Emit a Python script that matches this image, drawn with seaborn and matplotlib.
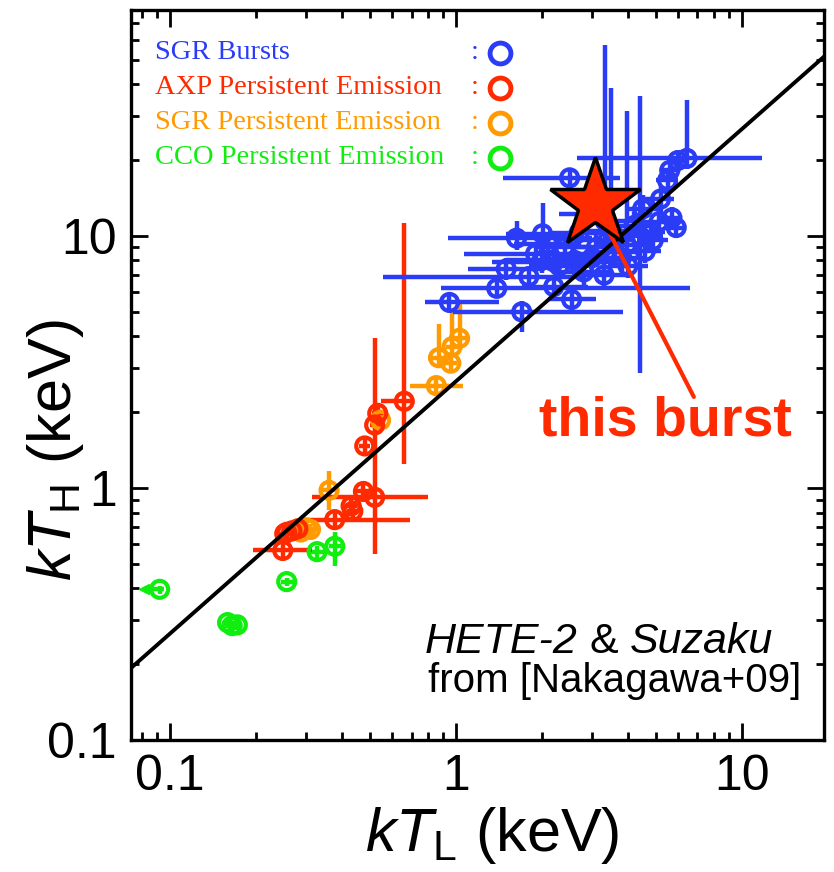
import numpy as np
import pandas as pd
import matplotlib
matplotlib.use('Agg')
import matplotlib.pyplot as plt
import matplotlib.ticker as mticker
import seaborn as sns

# SGR bursts (blue)
sgr_b_x = [0.95, 1.39, 1.70, 6.43, 5.97, 5.60, 5.50, 5.90, 5.70, 1.63, 2.01, 1.90, 2.20, 1.80, 2.54, 3.32, 3.50, 3.96,
           4.40, 2.50, 4.60, 5.14, 2.80, 3.00, 2.40, 4.00, 2.70, 3.60, 1.50, 2.20, 4.90, 2.90, 5.20, 4.50, 3.30, 2.10,
           2.60, 3.40, 3.80, 4.20, 2.30, 3.10, 4.80, 2.00]
sgr_b_y = [5.45, 6.20, 5.00, 20.3, 19.9, 18.2, 16.6, 10.8, 11.8, 9.8, 10.2, 8.5, 7.9, 6.9, 5.6, 11.5, 10.5, 9.2,
           10.0, 17.0, 8.7, 11.4, 7.2, 8.2, 9.0, 7.6, 10.3, 8.6, 7.4, 6.3, 9.6, 12.2, 14.0, 12.8, 7.0, 9.3,
           8.0, 9.6, 8.2, 11.0, 7.6, 9.0, 10.4, 8.0]
sgr_b_xlo = [0.78, 0.89, 0.98, 2.65, 5.5, 5.2, 5.0, 5.4, 5.2, 0.94, 1.5, 1.07, 1.34, 0.556, 2.1, 2.6, 2.8, 3.3,
             3.6, 1.46, 4.0, 4.6, 2.2, 2.4, 1.9, 3.4, 2.1, 3.0, 1.1, 1.7, 4.3, 2.3, 4.6, 3.9, 2.7, 1.6,
             2.0, 2.8, 3.2, 3.6, 1.8, 2.5, 4.2, 1.5]
sgr_b_xhi = [1.42, 6.6, 3.83, 11.8, 6.5, 6.0, 6.0, 6.4, 6.2, 3.0, 2.8, 3.2, 3.6, 2.83, 3.1, 4.2, 4.3, 4.7,
             5.3, 3.74, 5.2, 5.7, 3.5, 3.8, 3.0, 4.7, 3.4, 4.3, 2.0, 2.9, 5.5, 3.6, 5.8, 5.2, 4.0, 2.7,
             3.3, 4.1, 4.5, 4.9, 2.9, 3.8, 5.4, 2.6]
sgr_b_ylo = [5.1, 5.8, 4.15, 18.5, 18.0, 16.5, 15.0, 9.8, 10.8, 8.8, 8.8, 7.8, 7.2, 6.3, 5.0, 7.8, 8.5, 7.5,
             2.87, 15.5, 7.8, 10.3, 6.4, 7.3, 8.0, 6.8, 9.2, 7.7, 6.7, 5.7, 8.7, 10.8, 12.5, 11.3, 6.3, 8.4,
             7.0, 8.4, 7.2, 9.8, 6.8, 8.0, 9.3, 7.1]
sgr_b_yhi = [5.8, 6.6, 5.5, 34.5, 22.0, 20.0, 18.0, 11.8, 13.0, 11.5, 13.5, 9.3, 8.7, 7.5, 6.2, 57.0, 38.6, 31.4,
             36.0, 18.5, 9.6, 12.6, 8.0, 9.2, 10.2, 8.5, 11.6, 9.6, 8.2, 7.0, 10.6, 13.8, 15.8, 14.5, 7.8, 10.3,
             9.1, 11.0, 9.3, 12.4, 8.5, 10.2, 11.6, 9.0]

# AXP persistent emission (red)
axp_x = [0.66, 0.533, 0.52, 0.48, 0.52, 0.475, 0.43, 0.436, 0.377, 0.252, 0.267, 0.248, 0.28, 0.256]
axp_y = [2.21, 1.98, 1.78, 1.47, 0.92, 0.97, 0.85, 0.81, 0.75, 0.66, 0.677, 0.566, 0.69, 0.668]
axp_xlo = [0.545, 0.51, 0.50, 0.46, 0.313, 0.45, 0.41, 0.415, 0.285, 0.24, 0.255, 0.195, 0.267, 0.244]
axp_xhi = [0.70, 0.56, 0.55, 0.50, 0.80, 0.50, 0.45, 0.46, 0.69, 0.265, 0.28, 0.314, 0.294, 0.27]
axp_ylo = [1.25, 1.85, 1.65, 1.36, 0.546, 0.90, 0.79, 0.75, 0.70, 0.62, 0.64, 0.53, 0.65, 0.63]
axp_yhi = [11.3, 2.12, 1.92, 1.58, 3.93, 1.05, 0.92, 0.88, 0.80, 0.70, 0.72, 0.61, 0.73, 0.71]

# SGR persistent emission (orange)
sgr_p_x = [0.854, 0.87, 0.97, 1.03, 0.96, 0.545, 0.36, 0.31, 0.30, 0.287]
sgr_p_y = [2.55, 3.29, 3.64, 3.93, 3.13, 1.86, 0.98, 0.686, 0.695, 0.67]
sgr_p_xlo = [0.69, 0.80, 0.92, 0.98, 0.91, 0.52, 0.34, 0.29, 0.285, 0.275]
sgr_p_xhi = [1.06, 0.94, 1.02, 1.09, 1.01, 0.57, 0.38, 0.33, 0.315, 0.30]
sgr_p_ylo = [2.35, 3.05, 3.3, 3.6, 2.9, 1.75, 0.82, 0.65, 0.66, 0.64]
sgr_p_yhi = [2.75, 4.46, 5.1, 5.36, 3.4, 1.98, 1.17, 0.72, 0.73, 0.70]

# CCO persistent emission (green)
cco_x = [0.092, 0.159, 0.165, 0.172, 0.256, 0.327, 0.377]
cco_y = [0.397, 0.293, 0.285, 0.287, 0.426, 0.56, 0.588]
cco_xlo = [0.081, 0.152, 0.158, 0.165, 0.245, 0.31, 0.36]
cco_xhi = [0.095, 0.166, 0.172, 0.179, 0.272, 0.345, 0.395]
cco_ylo = [0.38, 0.28, 0.273, 0.275, 0.41, 0.53, 0.49]
cco_yhi = [0.41, 0.306, 0.297, 0.299, 0.44, 0.59, 0.668]

# this burst
star_x, star_y = 3.06, 13.4
label_x, label_y = 5.42, 1.83
pointer_x, pointer_y = 6.8, 2.3

# kT_H = 2.65 kT_L
line_coef = 2.65
line_x = [0.07, 20.0]

classes = ['SGR Bursts', 'AXP Persistent Emission', 'SGR Persistent Emission', 'CCO Persistent Emission']
colors = ['#2a3cf5', '#ff2a00', '#ff9a00', '#10ee10']
palette = dict(zip(classes, colors))

groups = [
    (sgr_b_x, sgr_b_y, sgr_b_xlo, sgr_b_xhi, sgr_b_ylo, sgr_b_yhi),
    (axp_x, axp_y, axp_xlo, axp_xhi, axp_ylo, axp_yhi),
    (sgr_p_x, sgr_p_y, sgr_p_xlo, sgr_p_xhi, sgr_p_ylo, sgr_p_yhi),
    (cco_x, cco_y, cco_xlo, cco_xhi, cco_ylo, cco_yhi),
]

frames = []
for name, (gx, gy, xlo, xhi, ylo, yhi) in zip(classes, groups):
    frames.append(pd.DataFrame({'kTL': gx, 'kTH': gy, 'xlo': xlo, 'xhi': xhi,
                                'ylo': ylo, 'yhi': yhi, 'cls': name}))
df = pd.concat(frames, ignore_index=True)

sns.set_theme(style='ticks')
plt.rcParams['font.family'] = ['Liberation Sans', 'DejaVu Sans']
plt.rcParams['text.color'] = 'black'
plt.rcParams['axes.labelcolor'] = 'black'
plt.rcParams['mathtext.fontset'] = 'custom'
plt.rcParams['mathtext.rm'] = 'Liberation Sans'
plt.rcParams['mathtext.it'] = 'Liberation Sans:italic'

fig = plt.figure(figsize=(8.34, 8.72), dpi=100)
ax = fig.add_axes([0.157, 0.151, 0.831, 0.838])
ax.set_xscale('log')
ax.set_yscale('log')

# error bars
draw_order = [3, 2, 1, 0]
for i in draw_order:
    d = df[df['cls'] == classes[i]]
    ax.errorbar(d['kTL'], d['kTH'],
                xerr=[d['kTL'] - d['xlo'], d['xhi'] - d['kTL']],
                yerr=[d['kTH'] - d['ylo'], d['yhi'] - d['kTH']],
                fmt='none', ecolor=colors[i], elinewidth=3.2, capsize=0, zorder=2)

# markers (open circles)
for i in draw_order:
    d = df[df['cls'] == classes[i]]
    sns.scatterplot(data=d, x='kTL', y='kTH', hue='cls', palette=palette, s=150,
                    linewidth=3.0, legend=False, ax=ax, zorder=3)
    coll = ax.collections[-1]
    coll.set_edgecolors(coll.get_facecolors())
    coll.set_facecolors('none')

# upper-limit arrow on CCO point
ax.plot(cco_xlo[0], cco_y[0], marker='<', ms=7, color=colors[3], zorder=3)

# relation line
ax.plot(line_x, [line_coef * v for v in line_x], color='black', lw=2.8, zorder=4)

# this burst
ax.plot([star_x, pointer_x], [star_y, pointer_y], color='#ff2a00', lw=3, zorder=5)
ax.plot(star_x, star_y, marker='*', ms=68, mfc='#ff2a00', mec='black', mew=2.5, zorder=6)
ax.text(label_x, label_y, 'this burst', color='#ff2a00', fontsize=40, fontweight='bold',
        ha='center', va='center', zorder=6)

ax.set_xlim(0.073, 19.4)
ax.set_ylim(0.1, 79)

fmt = mticker.FuncFormatter(lambda v, p: f'{v:g}')
ax.xaxis.set_major_formatter(fmt)
ax.yaxis.set_major_formatter(fmt)
ax.xaxis.set_minor_formatter(mticker.NullFormatter())
ax.yaxis.set_minor_formatter(mticker.NullFormatter())
ax.tick_params(which='both', direction='in', top=True, right=True, width=2, colors='black')
ax.tick_params(which='major', length=12, labelsize=36, pad=10)
ax.tick_params(which='minor', length=6)
for sp in ax.spines.values():
    sp.set_linewidth(2.4)
    sp.set_color('black')

ax.set_xlabel(r'$kT_{\mathrm{L}}$ (keV)', fontsize=44, color='black')
ax.set_ylabel(r'$kT_{\mathrm{H}}$ (keV)', fontsize=44, color='black')
ax.xaxis.set_label_coords(0.521, -0.088)
ax.yaxis.set_label_coords(-0.065, 0.397)

# legend drawn by hand
leg_y = [0.941, 0.893, 0.845, 0.797]
for name, c, yy in zip(classes, colors, leg_y):
    ax.text(0.035, yy, name, transform=ax.transAxes, color=c, fontsize=20.5,
            family=['Liberation Serif', 'DejaVu Serif'], va='center', ha='left')
    ax.text(0.49, yy, ':', transform=ax.transAxes, color=c, fontsize=20.5,
            family=['Liberation Serif', 'DejaVu Serif'], va='center', ha='left')
    ax.plot([0.532], [yy], transform=ax.transAxes, marker='o', ms=15, mfc='none',
            mec=c, mew=3.5, ls='none')

# source note
t1 = ax.text(0.424, 0.119, 'HETE-2', transform=ax.transAxes, fontsize=31,
             style='italic', va='baseline', ha='left', color='black')
t2 = ax.annotate(' & ', xy=(1, 0), xycoords=t1, va='bottom', ha='left', fontsize=31, color='black')
t3 = ax.annotate('Suzaku', xy=(1, 0), xycoords=t2, va='bottom', ha='left', fontsize=31,
                 style='italic', color='black')
ax.text(0.429, 0.066, 'from [Nakagawa+09]', transform=ax.transAxes, fontsize=29,
        va='baseline', ha='left', color='black')

fig.savefig('out.png', dpi=100)
